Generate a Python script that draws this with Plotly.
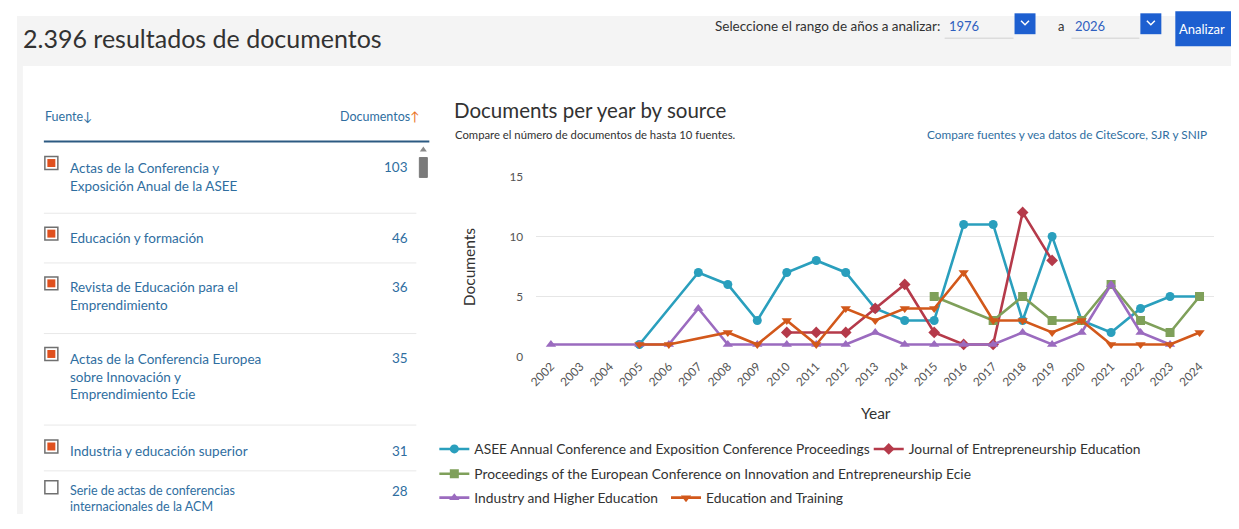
import plotly.graph_objects as go

# ---------------- data ----------------
years = ["2002", "2003", "2004", "2005", "2006", "2007", "2008", "2009", "2010", "2011", "2012",
         "2013", "2014", "2015", "2016", "2017", "2018", "2019", "2020", "2021", "2022", "2023", "2024"]
N = None
asee = [N, N, N, 1, N, 7, 6, 3, 7, 8, 7, 4, 3, 3, 11, 11, 3, 10, 3, 2, 4, 5, 5]
journal = [N, N, N, N, N, N, N, N, 2, 2, 2, 4, 6, 2, 1, 1, 12, 8, N, N, N, N, N]
proceedings = [N, N, N, N, N, N, N, N, N, N, N, N, N, 5, N, 3, 5, 3, 3, 6, 3, 2, 5]
industry = [1, N, N, 1, 1, 4, 1, 1, 1, 1, 1, 2, 1, 1, 1, 1, 2, 1, 2, 6, 2, 1, N]
education = [N, N, N, 1, 1, N, 2, 1, 3, 1, 4, 3, 4, 4, 7, 3, 3, 2, 3, 1, 1, 1, 2]

series_names = ["ASEE Annual Conference and Exposition Conference Proceedings",
                "Journal of Entrepreneurship Education",
                "Proceedings of the European Conference on Innovation and Entrepreneurship Ecie",
                "Industry and Higher Education",
                "Education and Training"]
series_values = [asee, journal, proceedings, industry, education]

y_ticks = [0, 5, 10, 15]

source_labels = ["Actas de la Conferencia y<br>Exposición Anual de la ASEE",
                 "Educación y formación",
                 "Revista de Educación para el<br>Emprendimiento",
                 "Actas de la Conferencia Europea<br>sobre Innovación y<br>Emprendimiento Ecie",
                 "Industria y educación superior",
                 "Serie de actas de conferencias<br>internacionales de la ACM"]
source_counts = ["103", "46", "36", "35", "31", "28"]
source_checked = [True, True, True, True, True, False]

# ---------------- styles ----------------
# figure size and the measured placement of the figure inside the final picture
W, H = 1223, 513
X0, SX = 15.1, 0.994
Y0, SY = 14.7, 0.976
FONT = "Lato"
colors = ["#2a9fbd", "#b53a4a", "#7fa05a", "#9b6bbf", "#d2581b"]
symbols = ["circle", "diamond", "square", "triangle-up", "triangle-down"]
legend_ids = ["legend", "legend2", "legend3", "legend4", "legend5"]
legend_pos = [(433, 450), (868, 450), (433, 475), (433, 499), (665, 499)]
LINK = "#2f6e9f"
TEXT = "#323232"


def px(x):
    return ((x - X0) / SX) / W


def py(y):
    return 1 - ((y - Y0) / SY) / H


def note(text, x, y, xanchor="left", yanchor="middle", size=12, color=TEXT, **kw):
    return dict(text=text, x=px(x), y=py(y), xref="paper", yref="paper", xanchor=xanchor,
                yanchor=yanchor, showarrow=False, font=dict(family=FONT, size=size, color=color), **kw)


fig = go.Figure()
for name, vals, col, sym, lg in zip(series_names, series_values, colors, symbols, legend_ids):
    fig.add_trace(go.Scatter(
        x=years, y=vals, name=name, mode="lines+markers", connectgaps=True,
        line=dict(color=col, width=2.6),
        marker=dict(color=col, symbol=sym, size=9),
        legend=lg,
    ))

shapes = []
annotations = []

# page backgrounds
shapes.append(dict(type="rect", xref="paper", yref="paper", x0=0, x1=1, y0=0, y1=1,
                   fillcolor="#f4f4f4", line_width=0, layer="below"))
shapes.append(dict(type="rect", xref="paper", yref="paper", x0=px(21), x1=1, y0=0, y1=py(65),
                   fillcolor="white", line_width=0, layer="below"))

# header
annotations.append(note("2.396 resultados de documentos", 19, 37, size=25))
annotations.append(note("Seleccione el rango de años a analizar:", 941, 25, xanchor="right", size=13.5))
for txt, tx, ux0, ux1, bx0 in [("1976", 946, 944, 1013, 1014), ("2026", 1073, 1071, 1139, 1140)]:
    annotations.append(note(txt, tx, 25, size=13, color="#2f5fbf"))
    shapes.append(dict(type="line", xref="paper", yref="paper", x0=px(ux0), x1=px(ux1),
                       y0=py(37), y1=py(37), line=dict(color="#d0d0d0", width=1)))
    shapes.append(dict(type="rect", xref="paper", yref="paper", x0=px(bx0), x1=px(bx0 + 21),
                       y0=py(33), y1=py(12), fillcolor="#1d5fd0", line_width=0))
    cx, cy = bx0 + 10.5, 21.5
    shapes.append(dict(type="path", xref="paper", yref="paper",
                       path=f"M {px(cx - 4)},{py(cy - 2)} L {px(cx)},{py(cy + 2)} L {px(cx + 4)},{py(cy - 2)}",
                       line=dict(color="white", width=1.5)))
annotations.append(note("a", 1056, 25, size=13))
shapes.append(dict(type="rect", xref="paper", yref="paper", x0=px(1175), x1=1, y0=py(45), y1=py(10),
                   fillcolor="#1d5fd0", line_width=0))
annotations.append(note("Analizar", 1202, 28, xanchor="center", size=13, color="white"))

# left table header
annotations.append(note("Fuente↓", 41, 116, size=12.5, color=LINK))
annotations.append(note("Documentos<span style='color:#e9711c'>↑</span>", 421, 116, xanchor="right",
                        size=12.5, color=LINK))
shapes.append(dict(type="line", xref="paper", yref="paper", x0=px(42), x1=px(428), y0=py(141),
                   y1=py(141), line=dict(color="#2c5a82", width=2)))

row_top = [167, 238, 287, 359, 452, 492]
row_size = [13.5, 13.5, 13.5, 13.5, 13.5, 12.5]
box_top = [156, 227, 277, 348, 441, 482]
seps = [213, 263, 334, 426, 472]
for lab, cnt, chk, yt, by, fs in zip(source_labels, source_counts, source_checked, row_top, box_top,
                                     row_size):
    annotations.append(note(lab, 66, yt - 10, yanchor="top", size=fs, color=LINK, align="left"))
    annotations.append(note(cnt, 409, yt, xanchor="right", size=13.5, color=LINK))
    shapes.append(dict(type="rect", xref="paper", yref="paper", x0=px(43), x1=px(56), y0=py(by + 13),
                       y1=py(by), fillcolor="white", line=dict(color="#707070", width=1.5)))
    if chk:
        shapes.append(dict(type="rect", xref="paper", yref="paper", x0=px(45.5), x1=px(53.5),
                           y0=py(by + 10.5), y1=py(by + 2.5), fillcolor="#e0501e", line_width=0))
for s in seps:
    shapes.append(dict(type="line", xref="paper", yref="paper", x0=px(42), x1=px(415), y0=py(s),
                       y1=py(s), line=dict(color="#e8e8e8", width=1)))
shapes.append(dict(type="path", xref="paper", yref="paper",
                   path=f"M {px(418.5)},{py(151)} L {px(422)},{py(146)} L {px(425.5)},{py(151)} Z",
                   fillcolor="#8a8a8a", line_width=0))
shapes.append(dict(type="rect", xref="paper", yref="paper", x0=px(418), x1=px(426), y0=py(177),
                   y1=py(157), fillcolor="#7a7a7a", line=dict(color="#7a7a7a", width=1)))

# chart titles
annotations.append(note("Documents per year by source", 451, 109, size=20.5))
annotations.append(note("Compare el número de documentos de hasta 10 fuentes.", 452, 134, size=11.3))
annotations.append(note("Compare fuentes y vea datos de CiteScore, SJR y SNIP", 1209, 134,
                        xanchor="right", size=11.8, color=LINK))
annotations.append(note("Documents", 468, 267, xanchor="center", size=15.5, textangle=-90))
annotations.append(note("Year", 875, 414, xanchor="center", size=15.5))

legend_common = dict(orientation="h", xanchor="left", yanchor="middle", bgcolor="rgba(0,0,0,0)",
                     font=dict(family=FONT, size=13.8, color=TEXT), itemwidth=30,
                     tracegroupgap=0, itemclick=False, itemdoubleclick=False)
legends = {}
for lg, (lx, ly) in zip(legend_ids, legend_pos):
    legends[lg] = dict(x=px(lx), y=py(ly), **legend_common)

fig.update_layout(
    width=W, height=H,
    margin=dict(l=0, r=0, t=0, b=0),
    paper_bgcolor="white", plot_bgcolor="rgba(0,0,0,0)",
    font=dict(family=FONT, color=TEXT),
    xaxis=dict(domain=[px(535), px(1214)], type="category", categoryorder="array",
               categoryarray=years, tickangle=-45, showgrid=False, showline=False, ticks="",
               tickfont=dict(family=FONT, size=11.8, color="#555555"), range=[-0.5, 22.5],
               fixedrange=True),
    yaxis=dict(domain=[py(357), py(176)], range=[0, 15], tickvals=y_ticks, showgrid=True,
               gridcolor="#e6e6e6", gridwidth=1, zeroline=False, showline=False, ticks="",
               ticklabelstandoff=12,
               tickfont=dict(family=FONT, size=11.8, color="#555555"), fixedrange=True),
    showlegend=True,
    shapes=shapes,
    annotations=annotations,
    **legends,
)

fig.write_html("out.html", config={"displayModeBar": False})
